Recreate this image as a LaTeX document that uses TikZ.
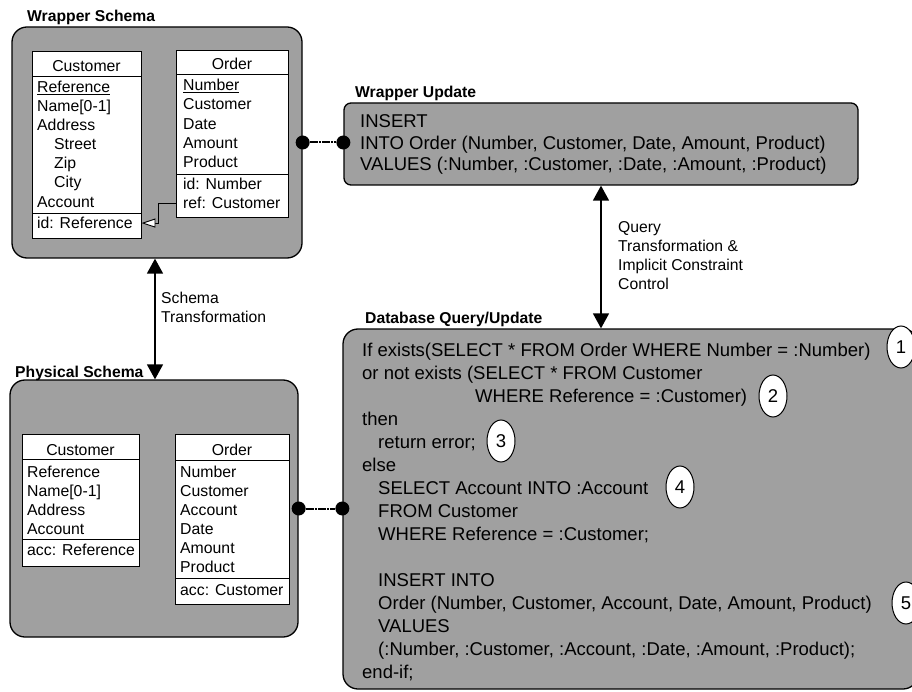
\documentclass[tikz,border=0pt]{standalone}
\usepackage{fontspec}
\setmainfont{Liberation Sans}
\usetikzlibrary{arrows.meta, shapes.geometric}
\definecolor{panelgray}{RGB}{160,160,160}

\begin{document}
\begin{tikzpicture}[x=1pt, y=-1pt,
  panel/.style={draw, line width=1.3pt, fill=panelgray, rounded corners=15pt, inner sep=0pt},
  tbl/.style={draw, line width=0.9pt, fill=white, inner sep=0pt},
  rule/.style={line width=0.9pt},
  attr/.style={anchor=base west, inner sep=0pt, font=\fontsize{15.8}{19}\selectfont},
  hdr/.style={anchor=base, inner sep=0pt, font=\fontsize{15.8}{19}\selectfont},
  code/.style={anchor=base west, inner sep=0pt, font=\fontsize{18.5}{23}\selectfont},
  title/.style={anchor=base west, inner sep=0pt, font=\fontsize{15.7}{19}\selectfont\bfseries},
  note/.style={anchor=base west, inner sep=0pt, font=\fontsize{15.7}{19}\selectfont},
  stepmark/.style={ellipse, draw, line width=1pt, fill=white, minimum width=28pt,
    minimum height=42pt, inner sep=0pt, font=\fontsize{18.5}{23}\selectfont},
  dot/.style={circle, fill=black, minimum size=14pt, inner sep=0pt},
  link/.style={line width=2pt, dash pattern=on 8pt off 1pt on 2pt off 1pt},
  twoway/.style={line width=1.6pt,
    {Triangle[length=15pt,width=16pt]}-{Triangle[length=15pt,width=16pt]}},
]
\useasboundingbox (0,0) rectangle (912,692);
\clip (0,0) rectangle (912,692);

% ---------- panels ----------
\node[panel, minimum width=290pt, minimum height=231pt] (ws) at (157,142.5) {};
\node[panel, rounded corners=7pt, minimum width=514pt, minimum height=82pt] (wu) at (601,144) {};
\node[panel, minimum width=288pt, minimum height=257pt] (ps) at (154,508.5) {};
\node[panel, minimum width=575pt, minimum height=360pt] (db) at (630.5,509) {};

\node[title] (wst) at (27,22)    {Wrapper Schema};
\node[title] (wut) at (355,97.6) {Wrapper Update};
\node[title] (dbt) at (365,323.6) {Database Query/Update};
\node[title] (pst) at (15,377.6) {Physical Schema};

% ---------- wrapper schema: Customer ----------
\node[tbl, minimum width=109pt, minimum height=187pt] (wc) at (86.5,144.5) {};
\draw[rule] (32,76) -- (141,76);
\draw[rule] (32,213) -- (141,213);
\node[hdr]  (wch) at (86.5,71.5) {Customer};
\node[attr] (wc1) at (37,92.7)  {\underline{Reference}};
\node[attr] (wc2) at (37,111.7) {Name[0-1]};
\node[attr] (wc3) at (37,130.7) {Address};
\node[attr] (wc4) at (54,149.7) {Street};
\node[attr] (wc5) at (54,168.7) {Zip};
\node[attr] (wc6) at (54,187.7) {City};
\node[attr] (wc7) at (37,207.2) {Account};
\node[attr] (wcid) at (37,228.7) {id: Reference};

% ---------- wrapper schema: Order ----------
\node[tbl, minimum width=112pt, minimum height=167pt] (wo) at (232,133.5) {};
\draw[rule] (176,74) -- (288,74);
\draw[rule] (176,174) -- (288,174);
\node[hdr]  (woh) at (232,69.7) {Order};
\node[attr] (wo1) at (183,90.7)  {\underline{Number}};
\node[attr] (wo2) at (183,110.0) {Customer};
\node[attr] (wo3) at (183,129.3) {Date};
\node[attr] (wo4) at (183,148.6) {Amount};
\node[attr] (wo5) at (183,167.9) {Product};
\node[attr] (woid) at (183,189.7) {id: Number};
\node[attr] (woref) at (183,208.7) {ref: Customer};

\draw[rule, -{Triangle[length=14pt,width=9pt,fill=white]}]
  (wo.west |- woref) -- ++(-17,0) |- (wc.east |- wcid);

% ---------- physical schema: Customer ----------
\node[tbl, minimum width=117pt, minimum height=132pt] (pc) at (80.5,500) {};
\draw[rule] (22,459) -- (139,459);
\draw[rule] (22,539) -- (139,539);
\node[hdr]  (pch) at (80.5,455.7) {Customer};
\node[attr] (pc1) at (27,477.7) {Reference};
\node[attr] (pc2) at (27,496.7) {Name[0-1]};
\node[attr] (pc3) at (27,515.7) {Address};
\node[attr] (pc4) at (27,534.7) {Account};
\node[attr] (pcacc) at (27,555.7) {acc: Reference};

% ---------- physical schema: Order ----------
\node[tbl, minimum width=114pt, minimum height=170pt] (po) at (232,519) {};
\draw[rule] (175,460) -- (289,460);
\draw[rule] (175,578) -- (289,578);
\node[hdr]  (poh) at (232,455.7) {Order};
\node[attr] (po1) at (180,477.7) {Number};
\node[attr] (po2) at (180,496.7) {Customer};
\node[attr] (po3) at (180,515.7) {Account};
\node[attr] (po4) at (180,534.7) {Date};
\node[attr] (po5) at (180,553.7) {Amount};
\node[attr] (po6) at (180,572.7) {Product};
\node[attr] (poacc) at (180,595.7) {acc: Customer};

% ---------- lollipop links ----------
\node[dot] (l1a) at (ws.east) {};
\node[dot] (l1b) at (ws.east -| wu.west) {};
\draw[link] (l1a) -- (l1b);
\node[dot] (l2a) at (ps.east) {};
\node[dot] (l2b) at (ps.east -| db.west) {};
\draw[link] (l2a) -- (l2b);

% ---------- transformation arrows ----------
\coordinate (sx) at (155,0);
\draw[twoway] (ws.south -| sx) -- (ps.north -| sx);
\draw[twoway] (wu.south) -- (wu.south |- db.north);

\node[note] (st1) at (161,303.6) {Schema};
\node[note] (st2) at (161,322.6) {Transformation};
\node[note] (qt1) at (618,232.6) {Query};
\node[note] (qt2) at (618,251.6) {Transformation \&};
\node[note] (qt3) at (618,270.6) {Implicit Constraint};
\node[note] (qt4) at (618,289.6) {Control};

% ---------- wrapper update statement ----------
\node[code] (wu1) at (360,128)   {INSERT};
\node[code] (wu2) at (360,149.6) {INTO Order (Number, Customer, Date, Amount, Product)};
\node[code] (wu3) at (360,171)   {VALUES (:Number, :Customer, :Date, :Amount, :Product)};

% ---------- database query/update ----------
\node[code] (q0)  at (362,356.6) {If exists(SELECT * FROM Order WHERE Number = :Number)};
\node[code] (q1)  at (362,379.6) {or not exists (SELECT * FROM Customer};
\node[code] (q2)  at (475,402.6) {WHERE Reference = :Customer)};
\node[code] (q3)  at (362,425.6) {then};
\node[code] (q4)  at (378,448.6) {return error;};
\node[code] (q5)  at (362,471.6) {else};
\node[code] (q6)  at (378,494.6) {SELECT Account INTO :Account};
\node[code] (q7)  at (378,517.6) {FROM Customer};
\node[code] (q8)  at (378,540.6) {WHERE Reference = :Customer;};
\node[code] (q10) at (378,586.6) {INSERT INTO};
\node[code] (q11) at (378,609.6) {Order (Number, Customer, Account, Date, Amount, Product)};
\node[code] (q12) at (378,632.6) {VALUES};
\node[code] (q13) at (378,655.6) {(:Number, :Customer, :Account, :Date, :Amount, :Product);};
\node[code] (q14) at (362,678.6) {end-if;};

\node[stepmark] (m1) at (901,347) {1};
\node[stepmark] (m2) at (773,396) {2};
\node[stepmark] (m3) at (501,441) {3};
\node[stepmark] (m4) at (680,487) {4};
\node[stepmark] (m5) at (906,603) {5};
\end{tikzpicture}
\end{document}
